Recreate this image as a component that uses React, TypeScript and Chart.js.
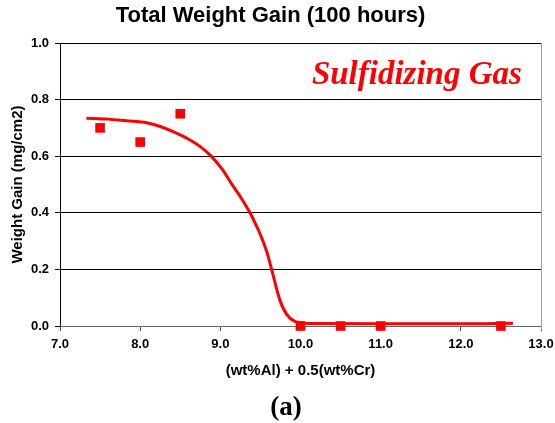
import React, { useEffect, useRef } from "react";
import { Chart, registerables } from "chart.js";

Chart.register(...registerables);

// Measured samples
const sampleX = [7.5, 8.0, 8.5, 10.0, 10.5, 11.0, 12.5];
const sampleY = [0.7, 0.65, 0.75, 0.0, 0.0, 0.0, 0.0];

// Smoothed trend line
const trendX = [7.33, 7.6, 7.83, 8.08, 8.25, 8.41, 8.6, 8.75, 8.88, 9.02, 9.16, 9.27, 9.37, 9.44, 9.51, 9.58, 9.64, 9.74, 9.83, 9.93, 10.1, 11.0, 12.0, 12.65];
const trendY = [0.734, 0.731, 0.725, 0.718, 0.705, 0.687, 0.661, 0.634, 0.602, 0.555, 0.494, 0.448, 0.4, 0.36, 0.316, 0.262, 0.2, 0.094, 0.04, 0.016, 0.009, 0.008, 0.008, 0.01];

const xTicks = [7, 8, 9, 10, 11, 12, 13];
const yTicks = [0, 0.2, 0.4, 0.6, 0.8, 1.0];

const titleText = "Total Weight Gain (100 hours)";
const xTitle = "(wt%Al) + 0.5(wt%Cr)";
const yTitle = "Weight Gain (mg/cm2)";
const annotationText = "Sulfidizing Gas";
const panelLabel = "(a)";

const RED = "#ff0000";
const SANS = "'Liberation Sans', Arial, sans-serif";
const SERIF = "'Liberation Serif', 'Times New Roman', serif";

const decorPlugin = {
  id: "decor",
  afterDatasetsDraw(chart: any) {
    const { ctx, chartArea } = chart;
    ctx.save();
    // grey frame line on the right side of the plot
    ctx.strokeStyle = "#a0a0a0";
    ctx.lineWidth = 1;
    ctx.beginPath();
    ctx.moveTo(chartArea.right + 0.5, chartArea.top);
    ctx.lineTo(chartArea.right + 0.5, chartArea.bottom + 4);
    ctx.stroke();
    // annotation in the upper right of the plot
    ctx.fillStyle = RED;
    ctx.font = `italic bold 33px ${SERIF}`;
    ctx.textAlign = "center";
    ctx.textBaseline = "alphabetic";
    ctx.fillText(annotationText, chartArea.left + (chartArea.right - chartArea.left) * 0.742, chartArea.top + 41);
    // panel label under the axis title
    ctx.fillStyle = "#000";
    ctx.font = `bold 27px ${SERIF}`;
    ctx.textBaseline = "middle";
    ctx.fillText(panelLabel, chartArea.left + (chartArea.right - chartArea.left) * 0.47, chart.height - 15);
    ctx.restore();
  },
};

export default function App() {
  const canvasRef = useRef<HTMLCanvasElement | null>(null);

  useEffect(() => {
    if (!canvasRef.current) return;
    const chart = new Chart(canvasRef.current, {
      type: "scatter",
      data: {
        datasets: [
          {
            label: "samples",
            data: sampleX.map((x, i) => ({ x, y: sampleY[i] })),
            backgroundColor: RED,
            borderColor: RED,
            borderWidth: 0,
            pointStyle: "rect",
            pointRadius: 6.8,
            clip: false,
            order: 0,
          } as any,
          {
            label: "trend",
            data: trendX.map((x, i) => ({ x, y: trendY[i] })),
            showLine: true,
            borderColor: RED,
            borderWidth: 3,
            pointRadius: 0,
            cubicInterpolationMode: "monotone",
            clip: false,
            order: 1,
          } as any,
        ],
      },
      options: {
        responsive: false,
        animation: false,
        layout: { padding: { left: 0, right: 14, top: 0, bottom: 28.6 } },
        plugins: {
          legend: { display: false },
          tooltip: { enabled: false },
          title: {
            display: true,
            text: titleText,
            color: "#000",
            font: { family: SANS, size: 22, weight: "bold" },
            padding: { top: 3, bottom: 13.6 },
          },
        },
        scales: {
          x: {
            type: "linear",
            min: 7,
            max: 13,
            afterFit: (s: any) => {
              s.height = 68.4;
              s.paddingLeft = 0;
              s.paddingRight = 0;
            },
            afterBuildTicks: (s: any) => {
              s.ticks = xTicks.map((v) => ({ value: v }));
            },
            ticks: {
              color: "#000",
              font: { family: SANS, size: 13, weight: "bold" },
              padding: 6,
              maxRotation: 0,
              callback: (v: any) => Number(v).toFixed(1),
            },
            grid: {
              drawOnChartArea: false,
              drawTicks: true,
              tickLength: 5,
              color: "#555",
            },
            border: { color: "#666", width: 1 },
            title: {
              display: true,
              text: xTitle,
              color: "#000",
              font: { family: SANS, size: 15, weight: "bold" },
              padding: { top: 0, bottom: 15 },
            },
          },
          y: {
            type: "linear",
            min: 0,
            max: 1,
            afterFit: (s: any) => {
              s.width = 60;
              s.paddingTop = 0;
              s.paddingBottom = 0;
            },
            afterBuildTicks: (s: any) => {
              s.ticks = yTicks.map((v) => ({ value: v }));
            },
            ticks: {
              color: "#000",
              font: { family: SANS, size: 13, weight: "bold" },
              padding: 6,
              callback: (v: any) => Number(v).toFixed(1),
            },
            grid: {
              color: "#000",
              lineWidth: 1,
              drawTicks: true,
              tickLength: 5,
            },
            border: { color: "#000", width: 1 },
            title: {
              display: true,
              text: yTitle,
              color: "#000",
              font: { family: SANS, size: 15, weight: "bold" },
              padding: { top: 8.5, bottom: 0 },
            },
          },
        },
      },
      plugins: [decorPlugin],
    });
    return () => chart.destroy();
  }, []);

  return (
    <div style={{ position: "fixed", left: 0, top: 0, width: 555, height: 423, background: "#fff" }}>
      <canvas ref={canvasRef} width={555} height={423} style={{ display: "block" }} />
    </div>
  );
}
